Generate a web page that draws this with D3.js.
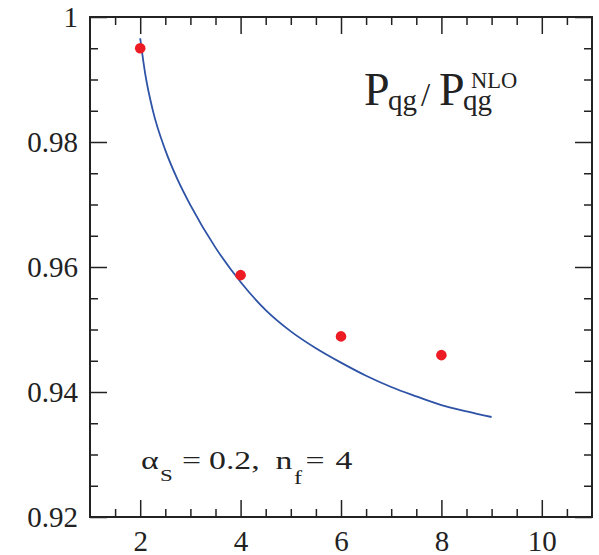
<!DOCTYPE html>
<html>
<head>
<meta charset="utf-8">
<script src="https://cdn.jsdelivr.net/npm/d3@7"></script>
<style>
  body { margin: 0; background: #fff; }
  svg { display: block; }
  text { font-family: "Liberation Serif", "Times New Roman", serif; fill: #222; }
</style>
</head>
<body>
<svg id="chart" width="599" height="555"></svg>
<script>
// curve: full calculation
const curveX = [2, 2.1, 2.25, 2.5, 2.75, 3, 3.5, 4, 4.5, 5, 5.5, 6, 6.5, 7, 7.5, 8, 8.5, 9];
const curveY = [0.9966, 0.9909, 0.9851, 0.9787, 0.9739, 0.9699, 0.9631, 0.9576, 0.9531,
                0.9497, 0.9470, 0.9447, 0.9426, 0.9408, 0.9393, 0.9379, 0.9369, 0.9360];

// points: fixed order estimates
const pointX = [2, 4, 6, 8];
const pointY = [0.995, 0.9587, 0.9489, 0.9459];

const xTicks = [2, 4, 6, 8, 10];
const xTickLabels = ["2", "4", "6", "8", "10"];
const yTicks = [0.92, 0.94, 0.96, 0.98, 1];
const yTickLabels = ["0.92", "0.94", "0.96", "0.98", "1"];

const svg = d3.select("#chart");
const plotLeft = 90, plotRight = 592, plotTop = 17, plotBottom = 517;

const x = d3.scaleLinear().domain([1, 11]).range([plotLeft, plotRight]);
const y = d3.scaleLinear().domain([0.92, 1]).range([plotBottom, plotTop]);

const xMinor = d3.range(1.5, 11, 0.5).filter(v => !xTicks.includes(v));
const yMinor = d3.range(0.925, 1, 0.005).filter(v => yTicks.every(t => Math.abs(t - v) > 1e-6));

const majorLen = 17, minorLen = 8;

function styleAxis(g) {
    g.select(".domain").remove();
    g.selectAll(".tick line").attr("stroke", "#222").attr("stroke-width", 1.5);
    g.selectAll(".tick text").attr("font-size", 29).attr("fill", "#222")
        .attr("font-family", '"Liberation Serif", serif');
}

// bottom axis with labels
svg.append("g").attr("transform", `translate(0,${plotBottom})`)
    .call(d3.axisBottom(x).tickValues(xTicks).tickSizeInner(-majorLen).tickSizeOuter(0)
        .tickPadding(13).tickFormat((d, i) => xTickLabels[i]))
    .call(styleAxis);
svg.append("g").attr("transform", `translate(0,${plotBottom})`)
    .call(d3.axisBottom(x).tickValues(xMinor).tickSizeInner(-minorLen).tickSizeOuter(0).tickFormat(""))
    .call(styleAxis);

// top axis
svg.append("g").attr("transform", `translate(0,${plotTop})`)
    .call(d3.axisTop(x).tickValues(xTicks).tickSizeInner(-majorLen).tickSizeOuter(0).tickFormat(""))
    .call(styleAxis);
svg.append("g").attr("transform", `translate(0,${plotTop})`)
    .call(d3.axisTop(x).tickValues(xMinor).tickSizeInner(-minorLen).tickSizeOuter(0).tickFormat(""))
    .call(styleAxis);

// left axis with labels
svg.append("g").attr("transform", `translate(${plotLeft},0)`)
    .call(d3.axisLeft(y).tickValues(yTicks).tickSizeInner(-majorLen).tickSizeOuter(0)
        .tickPadding(12).tickFormat((d, i) => yTickLabels[i]))
    .call(styleAxis);
svg.append("g").attr("transform", `translate(${plotLeft},0)`)
    .call(d3.axisLeft(y).tickValues(yMinor).tickSizeInner(-minorLen).tickSizeOuter(0).tickFormat(""))
    .call(styleAxis);

// right axis
svg.append("g").attr("transform", `translate(${plotRight},0)`)
    .call(d3.axisRight(y).tickValues(yTicks).tickSizeInner(-majorLen).tickSizeOuter(0).tickFormat(""))
    .call(styleAxis);
svg.append("g").attr("transform", `translate(${plotRight},0)`)
    .call(d3.axisRight(y).tickValues(yMinor).tickSizeInner(-minorLen).tickSizeOuter(0).tickFormat(""))
    .call(styleAxis);

// frame
svg.append("rect")
    .attr("x", plotLeft).attr("y", plotTop)
    .attr("width", plotRight - plotLeft).attr("height", plotBottom - plotTop)
    .attr("fill", "none").attr("stroke", "#222").attr("stroke-width", 2);

// curve
const line = d3.line()
    .x(d => x(d[0]))
    .y(d => y(d[1]))
    .curve(d3.curveMonotoneX);

svg.append("path")
    .datum(curveX.map((v, i) => [v, curveY[i]]))
    .attr("d", line)
    .attr("fill", "none")
    .attr("stroke", "#2d52a6")
    .attr("stroke-width", 1.8);

// points
svg.selectAll("circle.pt")
    .data(pointX.map((v, i) => [v, pointY[i]]))
    .join("circle")
    .attr("class", "pt")
    .attr("cx", d => x(d[0]))
    .attr("cy", d => y(d[1]))
    .attr("r", 5.3)
    .attr("fill", "#ed1c24");

// title P_qg / P_qg^NLO
const title = svg.append("text").attr("font-size", 46);
title.append("tspan").attr("x", 364).attr("y", 105).text("P");
title.append("tspan").attr("x", 388).attr("y", 110).attr("font-size", 29).text("qg");
title.append("tspan").attr("x", 421).attr("y", 106).attr("font-size", 33).text("/");
title.append("tspan").attr("x", 439).attr("y", 105).text("P");
title.append("tspan").attr("x", 463).attr("y", 110).attr("font-size", 29).text("qg");
title.append("tspan").attr("x", 471).attr("y", 88).attr("font-size", 22.5).text("NLO");

// annotation alpha_S = 0.2, n_f = 4 (glyphs are wide in the original, so stretch)
const ann = svg.append("g").attr("transform", "translate(141,0) scale(1.35,1)")
    .append("text").attr("font-size", 25);
ann.append("tspan").attr("x", 0).attr("y", 469).text("α");
ann.append("tspan").attr("x", 14).attr("y", 481).attr("font-size", 17).text("S");
ann.append("tspan").attr("x", 30.4).attr("y", 469).text("=");
ann.append("tspan").attr("x", 50.4).attr("y", 469).text("0.2,");
ann.append("tspan").attr("x", 99.6).attr("y", 469).text("n");
ann.append("tspan").attr("x", 113.3).attr("y", 484).attr("font-size", 18).text("f");
ann.append("tspan").attr("x", 121.9).attr("y", 469).text("=");
ann.append("tspan").attr("x", 144.1).attr("y", 469).text("4");
</script>
</body>
</html>
